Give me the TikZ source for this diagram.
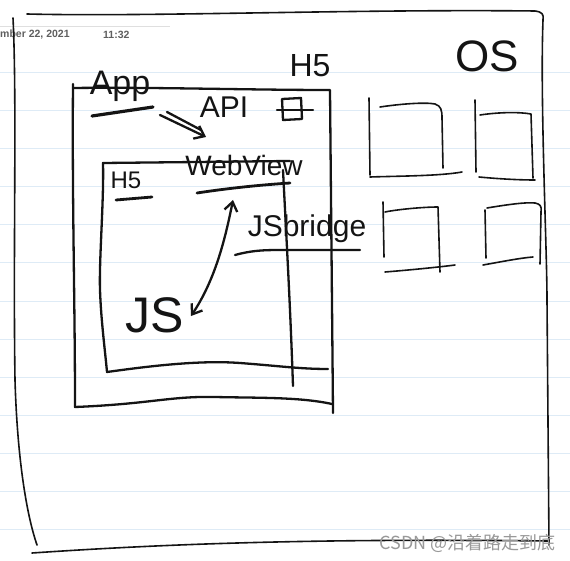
\documentclass[tikz,border=0pt]{standalone}
\usepackage{fontspec}
\setmainfont{Liberation Sans}
\newfontfamily\cjkfont{Noto Sans CJK SC}
\usetikzlibrary{arrows.meta}
\definecolor{ink}{RGB}{20,20,20}
\definecolor{ruleblue}{RGB}{222,235,246}
\definecolor{hdr}{RGB}{95,95,95}
\begin{document}
\begin{tikzpicture}[x=1pt,y=-1pt,
  pen/.style={draw=ink,line width=2.3pt,line cap=round,line join=round},
  fine/.style={draw=ink,line width=1.6pt,line cap=round,line join=round},
  hand/.style={text=ink,inner sep=0pt,font=\fontsize{#1}{#1}\selectfont},
  barb/.style={pen,-{Straight Barb[length=9pt,width=14pt,line width=2.3pt]}},
  twobarb/.style={pen,{Straight Barb[length=9pt,width=13pt,line width=2.3pt]}-{Straight Barb[length=9pt,width=13pt,line width=2.3pt]}},
  hdrtext/.style={text=hdr,inner sep=0pt,anchor=west,font=\bfseries\fontsize{10.5}{10.5}\selectfont}
]
\fill[white] (0,0) rectangle (570,561);
\useasboundingbox (0,0) rectangle (570,561);

% ruled paper
\foreach \yy in {73,111,...,529} \draw[ruleblue,line width=1pt] (0,\yy) -- (570,\yy);
\draw[gray!25,line width=0.8pt] (0,26) -- (170,26);
\node[hdrtext] (date) at (0,35) {mber 22, 2021};
\node[hdrtext] (time) at (103,35) {11:32};

% OS frame
\draw[fine] (27,14) .. controls (150,17) and (350,9) .. (535,11) .. controls (542,12) and (544,14) .. (543,20) .. controls (540,100) and (547,250) .. (547,300) -- (549,545);
\draw[fine] (13,18) .. controls (17,100) and (13,250) .. (15,380) .. controls (17,450) and (25,510) .. (37,545);
\draw[fine] (32,553) .. controls (150,545) and (300,538) .. (548,541);
\node[hand=44] (os) at (487,56) {OS};

% App box
\draw[pen] (73,84) .. controls (72,200) and (75,300) .. (75,407) .. controls (150,404) and (170,396) .. (215,397) .. controls (260,398) and (300,397) .. (332,404);
\draw[pen] (73,88) .. controls (150,87) and (250,90) .. (330,90) .. controls (331,200) and (332,300) .. (333,413);
\node[hand=34] (app) at (120,86) {App};
\draw[pen,line width=3.2pt] (92,116) -- (153,107);
\node[hand=32] (h5a) at (310,66) {H5};
\draw[pen] (282,99) -- (301,98) -- (302,119) -- (283,120) -- cycle;
\draw[pen] (277,110) -- (313,110);
\node[hand=30] (api) at (224,107) {API};
\coordinate (appout) at (160,115);
\coordinate (apiin) at (206,137);
\draw[barb] (appout) -- (apiin);
\draw[pen] (167,112) -- (201,130);

% WebView box
\draw[pen] (290,161) -- (103,163) .. controls (104,200) and (99,260) .. (100,290) .. controls (101,320) and (105,350) .. (107,372) .. controls (150,366) and (200,360) .. (240,363) .. controls (280,366) and (300,369) .. (328,369);
\draw[pen] (283,170) .. controls (287,250) and (290,300) .. (293,386);
\node[hand=28] (webview) at (244,165) {WebView};
\draw[pen,line width=2.8pt] (197,193) .. controls (230,188) and (260,185) .. (290,183);
\node[hand=24] (h5b) at (126,180) {H5};
\draw[pen,line width=2.8pt] (116,200) -- (152,197);
\node[hand=30] (bridge) at (307,229) {JSbridge};
\draw[pen] (235,255) .. controls (250,251) and (260,250) .. (280,250) -- (360,250);
\node[hand=50] (js) at (155,315) {JS};
\coordinate (wvend) at (233,200);
\coordinate (jsend) at (191,316);
\draw[twobarb] (wvend) .. controls (225,240) and (215,280) .. (jsend);

% OS squares
\draw[fine] (369,98) -- (370,175);
\draw[fine] (380,107) .. controls (400,104) and (425,102) .. (435,104) .. controls (441,106) and (442,110) .. (442,118) -- (443,168);
\draw[fine] (370,177) .. controls (400,176) and (440,176) .. (462,172);

\draw[fine] (475,100) -- (476,172);
\draw[fine] (480,115) .. controls (500,112) and (520,112) .. (531,114) -- (533,178);
\draw[fine] (479,177) .. controls (500,179) and (520,180) .. (535,180);

\draw[fine] (383,202) -- (384,257);
\draw[fine] (385,212) .. controls (400,209) and (425,207) .. (438,207) -- (440,272);
\draw[fine] (385,272) .. controls (410,270) and (440,267) .. (455,265);

\draw[fine] (485,210) -- (486,258);
\draw[fine] (487,208) .. controls (505,205) and (525,202) .. (535,203) .. controls (540,204) and (542,206) .. (541,212) -- (540,264);
\draw[fine] (483,265) .. controls (500,262) and (520,258) .. (533,257);

% watermark
\node[text=gray!80,inner sep=0pt,anchor=east,font=\cjkfont\fontsize{18}{18}\selectfont] (wm) at (556,543) {CSDN @沿着路走到底};
\end{tikzpicture}
\end{document}
